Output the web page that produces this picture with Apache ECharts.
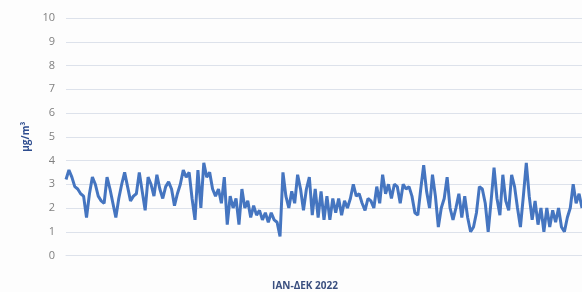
<!DOCTYPE html>
<html>
<head>
<meta charset="utf-8">
<script src="https://cdn.jsdelivr.net/npm/echarts@6/dist/echarts.min.js"></script>
<style>
  html, body { margin: 0; padding: 0; background: #fdfdfd; }
  #chart { width: 582px; height: 292px; }
</style>
</head>
<body>
<div id="chart"></div>
<script>
// daily values, Jan-Dec 2022
const values = [
  3.2, 3.6, 3.3, 2.9, 2.8, 2.6, 2.5, 1.6, 2.6, 3.3, 3.0, 2.5, 2.3, 2.2, 3.3, 2.8, 2.2, 1.6,
  2.4, 3.0, 3.5, 2.9, 2.3, 2.5, 2.6, 3.5, 2.7, 1.9, 3.3, 3.0, 2.5, 3.4, 2.8,
  2.4, 2.9, 3.1, 2.8, 2.1, 2.6, 3.0, 3.6, 3.3, 3.5, 2.4, 1.5, 3.6, 2.0, 3.9, 3.3, 3.5, 2.8,
  2.5, 2.8, 2.2, 3.3, 1.3, 2.5, 2.0, 2.4, 1.3, 2.8, 2.0, 2.3, 1.6, 2.1, 1.7, 1.9, 1.5, 1.8, 1.4,
  1.8, 1.5, 1.4, 0.8, 3.5, 2.5, 2.0, 2.7, 2.2, 3.4, 2.8, 1.9, 2.8, 3.3, 1.7, 2.8, 1.6, 2.7,
  1.5, 2.5, 1.5, 2.4, 1.8, 2.4, 1.7, 2.3, 2.0, 2.4, 3.0, 2.5, 2.6, 2.2, 1.9, 2.4,
  2.3, 2.0, 2.9, 2.2, 3.4, 2.6, 3.0, 2.4, 3.0, 2.9, 2.2, 3.0, 2.8, 2.9, 2.5, 1.8, 1.7, 2.8,
  3.8, 2.7, 2.0, 3.4, 2.5, 1.2, 2.0, 2.4, 3.3, 2.0, 1.5, 2.0, 2.6, 1.6, 2.5, 1.6, 1.0,
  1.2, 1.8, 2.9, 2.8, 2.2, 1.0, 2.3, 3.7, 2.4, 1.7, 3.4, 2.3, 1.9, 3.4, 2.9, 2.0, 1.2, 2.5,
  3.9, 2.5, 1.5, 2.3, 1.3, 2.0, 1.0, 2.0, 1.2, 1.9, 1.4, 2.0, 1.2, 1.0, 1.6, 2.0, 3.0, 2.2, 2.6, 2.0
];
const days = values.map((v, i) => i + 1);
const yTicks = [0, 10];

var myChart = echarts.init(document.getElementById("chart"));
var option = {
  backgroundColor: "#fdfdfd",
  animation: false,
  title: {
    text: "IAN-ΔΕΚ 2022",
    left: 300,
    top: 276,
    textAlign: "center",
    textStyle: { fontFamily: "Open Sans", fontSize: 10, fontWeight: "bold", color: "#3a4f7f" },
  },
  grid: { left: 66, right: 0, top: 18, bottom: 36.5 },
  xAxis: {
    type: "category",
    data: days,
    boundaryGap: false,
    axisLine: { show: true, lineStyle: { color: "#dde2eb", width: 1 } },
    axisTick: { show: false },
    axisLabel: { show: false },
    splitLine: { show: false },
  },
  yAxis: {
    type: "value",
    min: yTicks[0],
    max: yTicks[1],
    interval: 1,
    name: "μg/m³",
    nameLocation: "middle",
    nameGap: 34,
    nameRotate: 90,
    nameTextStyle: { fontFamily: "Open Sans", fontSize: 10, fontWeight: "bold", color: "#2e4d8f" },
    axisLine: { show: false },
    axisTick: { show: false },
    axisLabel: { margin: 11, fontFamily: "Open Sans", fontSize: 11, color: "#808080" },
    splitLine: { lineStyle: { color: "#dde2eb", width: 1 } },
  },
  series: [
    {
      type: "line",
      data: values,
      showSymbol: false,
      lineStyle: { color: "#4575c0", width: 3 },
      itemStyle: { color: "#4575c0" },
    },
  ],
};
myChart.setOption(option);
</script>
</body>
</html>
